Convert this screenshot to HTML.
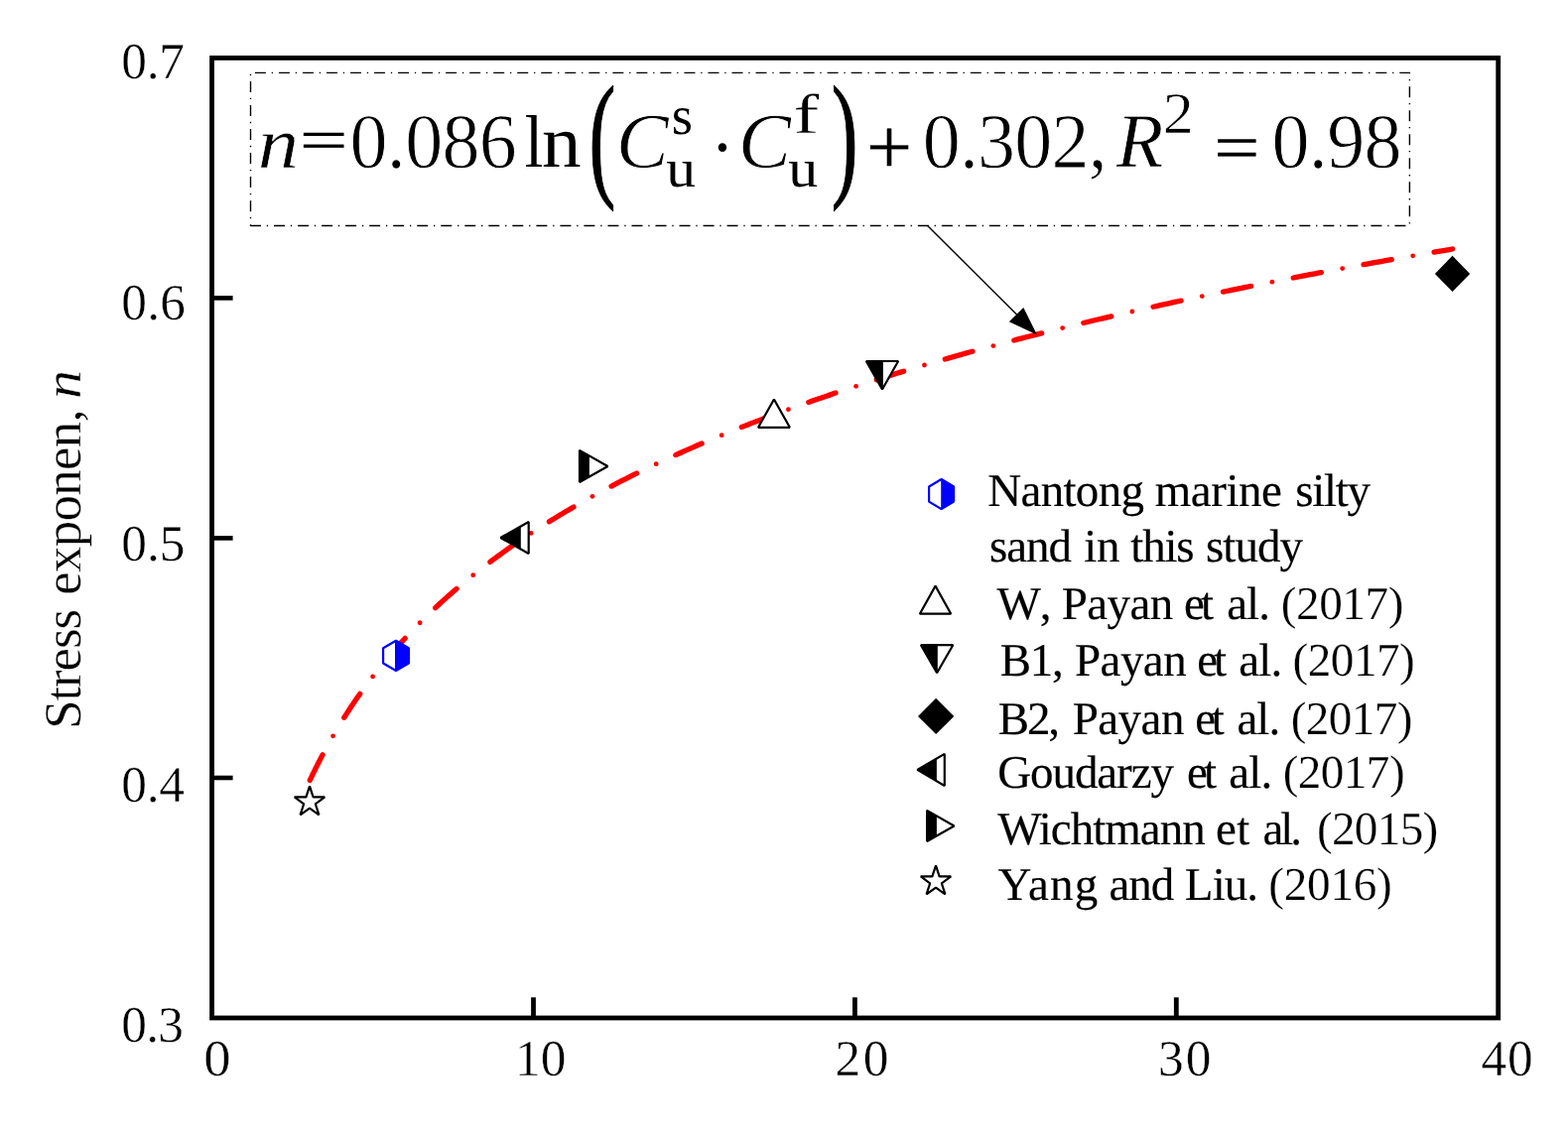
<!DOCTYPE html>
<html lang="en">
<head>
<meta charset="utf-8">
<title>Stress exponent n versus uniformity coefficient</title>
<style>
html,body{margin:0;padding:0;background:#fff;}
body{width:1580px;height:1144px;overflow:hidden;font-family:"Liberation Serif", "DejaVu Serif", serif;}
svg{display:block;}
text{white-space:pre;text-rendering:geometricPrecision;}
</style>
</head>
<body>
<svg width="1580" height="1144" viewBox="0 0 1580 1144">
<rect x="213.55" y="58.4" width="1296.15" height="967.6" fill="none" stroke="#000" stroke-width="4.8"/>
<line x1="213.55" y1="300.4" x2="234.6" y2="300.4" stroke="#000" stroke-width="4.6"/>
<line x1="213.55" y1="542.4" x2="234.6" y2="542.4" stroke="#000" stroke-width="4.6"/>
<line x1="213.55" y1="784.0" x2="234.6" y2="784.0" stroke="#000" stroke-width="4.6"/>
<line x1="537.5" y1="1026.0" x2="537.5" y2="1005.3" stroke="#000" stroke-width="4.8"/>
<line x1="861.4" y1="1026.0" x2="861.4" y2="1005.3" stroke="#000" stroke-width="4.8"/>
<line x1="1185.3" y1="1026.0" x2="1185.3" y2="1005.3" stroke="#000" stroke-width="4.8"/>
<path d="M312.27,786.48 L313.63,783.60 L315.00,780.72 L316.39,777.85 L317.80,774.99 L319.22,772.13 L320.66,769.29 L322.11,766.45 L323.57,763.62 L325.06,760.79 M346.79,723.25 L348.50,720.56 L350.22,717.88 L351.97,715.21 L353.72,712.55 L355.50,709.89 L357.28,707.25 L359.09,704.62 L360.91,702.01 L362.74,699.40 M389.17,665.00 L391.22,662.55 L393.28,660.12 L395.36,657.70 L397.44,655.29 L399.55,652.89 L401.66,650.51 L403.79,648.13 L405.93,645.77 L408.09,643.42 M438.66,612.64 L440.99,610.47 L443.33,608.30 L445.69,606.15 L448.05,604.01 L450.43,601.89 L452.82,599.77 L455.21,597.67 L457.62,595.58 L460.04,593.50 M493.89,566.36 L496.44,564.45 L499.00,562.55 L501.57,560.66 L504.14,558.78 L506.73,556.91 L509.32,555.06 L511.92,553.21 L514.53,551.37 L517.14,549.55 M553.41,525.74 L556.13,524.07 L558.85,522.40 L561.57,520.74 L564.30,519.09 L567.04,517.46 L569.78,515.83 L572.52,514.21 L575.28,512.59 L578.03,510.99 M616.04,490.07 L618.87,488.59 L621.70,487.12 L624.53,485.66 L627.37,484.21 L630.22,482.77 L633.06,481.33 L635.91,479.90 L638.77,478.48 L641.63,477.07 M680.87,458.57 L683.78,457.26 L686.69,455.96 L689.60,454.66 L692.52,453.37 L695.44,452.09 L698.36,450.81 L701.29,449.54 L704.22,448.28 L707.15,447.03 M747.28,430.54 L750.25,429.37 L753.22,428.20 L756.19,427.04 L759.16,425.89 L762.14,424.75 L765.11,423.60 L768.09,422.47 L771.08,421.34 L774.06,420.21 M814.84,405.39 L817.85,404.34 L820.86,403.29 L823.88,402.25 L826.89,401.21 L829.91,400.17 L832.92,399.14 L835.94,398.12 L838.96,397.10 L841.99,396.08 M883.25,382.66 L886.29,381.71 L889.34,380.76 L892.38,379.81 L895.43,378.86 L898.47,377.92 L901.52,376.99 L904.57,376.05 L907.62,375.12 L910.67,374.20 M952.30,361.96 L955.37,361.09 L958.44,360.22 L961.50,359.35 L964.57,358.49 L967.65,357.63 L970.72,356.77 L973.79,355.91 L976.86,355.06 L979.94,354.22 M1021.85,342.98 L1024.93,342.18 L1028.02,341.38 L1031.11,340.58 L1034.20,339.79 L1037.28,338.99 L1040.37,338.20 L1043.46,337.42 L1046.55,336.63 L1049.65,335.85 M1091.78,325.48 L1094.88,324.74 L1097.98,324.00 L1101.08,323.26 L1104.19,322.52 L1107.29,321.79 L1110.39,321.06 L1113.50,320.33 L1116.60,319.60 L1119.71,318.88 M1162.02,309.25 L1165.13,308.56 L1168.24,307.87 L1171.36,307.18 L1174.47,306.50 L1177.59,305.81 L1180.70,305.13 L1183.82,304.45 L1186.93,303.78 L1190.05,303.10 M1232.50,294.13 L1235.62,293.48 L1238.75,292.84 L1241.87,292.20 L1245.00,291.56 L1248.12,290.92 L1251.24,290.28 L1254.37,289.65 L1257.50,289.01 L1260.62,288.38 M1303.19,279.98 L1306.32,279.37 L1309.45,278.77 L1312.58,278.17 L1315.71,277.57 L1318.85,276.97 L1321.98,276.37 L1325.11,275.78 L1328.25,275.18 L1331.38,274.59 M1374.04,266.69 L1377.18,266.12 L1380.32,265.55 L1383.46,264.98 L1386.60,264.42 L1389.73,263.85 L1392.87,263.29 L1396.01,262.73 L1399.15,262.17 L1402.29,261.61 M1445.04,254.16 L1448.13,253.63 L1451.23,253.10 L1454.33,252.58 L1457.43,252.05 L1460.53,251.52 L1463.63,251.00" fill="none" stroke="#f00" stroke-width="5.3" stroke-linecap="round" stroke-linejoin="round"/>
<g fill="#f00"><circle cx="335.56" cy="741.81" r="2.4"/><circle cx="375.62" cy="681.94" r="2.4"/><circle cx="423.09" cy="627.75" r="2.4"/><circle cx="476.75" cy="579.66" r="2.4"/><circle cx="535.13" cy="537.41" r="2.4"/><circle cx="596.93" cy="500.33" r="2.4"/><circle cx="661.17" cy="467.65" r="2.4"/><circle cx="727.16" cy="438.64" r="2.4"/><circle cx="794.41" cy="412.69" r="2.4"/><circle cx="862.59" cy="389.28" r="2.4"/><circle cx="931.46" cy="368.00" r="2.4"/><circle cx="1000.87" cy="348.53" r="2.4"/><circle cx="1070.70" cy="330.61" r="2.4"/><circle cx="1140.85" cy="314.01" r="2.4"/><circle cx="1211.27" cy="298.57" r="2.4"/><circle cx="1281.90" cy="284.14" r="2.4"/><circle cx="1352.70" cy="270.60" r="2.4"/><circle cx="1423.66" cy="257.86" r="2.4"/></g>
<polygon points="312.00,792.34 315.60,803.43 327.26,803.43 317.83,810.28 321.43,821.37 312.00,814.52 302.57,821.37 306.17,810.28 296.74,803.43 308.40,803.43" fill="#fff" stroke="#000" stroke-width="2.2" stroke-linejoin="bevel"/>
<polygon points="399.00,645.75 411.90,653.32 411.90,668.48 399.00,676.05 386.10,668.48 386.10,653.32" fill="#fff" stroke="#00f" stroke-width="2.2" stroke-linejoin="bevel"/><polygon points="399.00,645.75 411.90,653.32 411.90,668.48 399.00,676.05 398.00,675.46 398.00,646.34" fill="#00f"/>
<polygon points="504.44,542.00 532.70,525.96 532.70,558.04" fill="#fff" stroke="#000" stroke-width="2.2" stroke-linejoin="bevel"/><polygon points="504.44,542.00 524.80,530.44 524.80,553.56" fill="#000"/>
<polygon points="584.00,453.86 612.46,469.95 584.00,486.04" fill="#fff" stroke="#000" stroke-width="2.2" stroke-linejoin="bevel"/><polygon points="584.00,453.86 593.90,459.46 593.90,480.44 584.00,486.04" fill="#000"/>
<polygon points="779.95,402.54 795.84,430.80 764.06,430.80" fill="#fff" stroke="#000" stroke-width="2.2" stroke-linejoin="bevel"/>
<polygon points="872.86,364.00 905.14,364.00 889.00,392.46" fill="#fff" stroke="#000" stroke-width="2.2" stroke-linejoin="bevel"/><polygon points="872.86,364.00 889.90,364.00 889.90,390.87 889.00,392.46" fill="#000"/>
<polygon points="1463.55,257.80 1481.20,275.90 1463.55,294.00 1445.90,275.90" fill="#000"/>
<polygon points="948.60,482.94 961.10,490.50 961.10,505.60 948.60,513.16 936.10,505.60 936.10,490.50" fill="#fff" stroke="#00f" stroke-width="2.2" stroke-linejoin="bevel"/><polygon points="948.60,482.94 961.10,490.50 961.10,505.60 948.60,513.16 948.20,512.92 948.20,483.18" fill="#00f"/>
<polygon points="942.55,590.64 958.24,618.70 926.86,618.70" fill="#fff" stroke="#000" stroke-width="2.2" stroke-linejoin="bevel"/>
<polygon points="927.95,650.20 960.25,650.20 944.10,678.25" fill="#fff" stroke="#000" stroke-width="2.2" stroke-linejoin="bevel"/><polygon points="927.95,650.20 944.80,650.20 944.80,677.04 944.10,678.25" fill="#000"/>
<polygon points="943.15,703.80 961.30,721.90 943.15,740.00 925.00,721.90" fill="#000"/>
<polygon points="924.36,775.90 951.80,759.85 951.80,791.95" fill="#fff" stroke="#000" stroke-width="2.2" stroke-linejoin="bevel"/><polygon points="924.36,775.90 943.90,764.47 943.90,787.33" fill="#000"/>
<polygon points="934.10,816.86 961.46,832.45 934.10,848.04" fill="#fff" stroke="#000" stroke-width="2.2" stroke-linejoin="bevel"/><polygon points="934.10,816.86 943.90,822.44 943.90,842.46 934.10,848.04" fill="#000"/>
<polygon points="943.00,872.34 946.60,883.43 958.26,883.43 948.83,890.28 952.43,901.37 943.00,894.52 933.57,901.37 937.17,890.28 927.74,883.43 939.40,883.43" fill="#fff" stroke="#000" stroke-width="2.2" stroke-linejoin="bevel"/>
<line x1="252.5" y1="73.4" x2="1421.0" y2="73.4" fill="none" stroke="#000" stroke-width="1.4" stroke-dasharray="11 5.8 1.3 5.93" stroke-dashoffset="19.63"/>
<line x1="252.0" y1="227.5" x2="1420.4" y2="227.5" fill="none" stroke="#000" stroke-width="1.4" stroke-dasharray="11 5.8 1.3 5.93" stroke-dashoffset="0"/>
<line x1="252.5" y1="73.4" x2="252.5" y2="227.5" fill="none" stroke="#000" stroke-width="1.4" stroke-dasharray="11 5.8 1.3 5.93" stroke-dashoffset="15.43"/>
<line x1="1420.4" y1="73.4" x2="1420.4" y2="227.5" fill="none" stroke="#000" stroke-width="1.4" stroke-dasharray="11 5.8 1.3 5.93" stroke-dashoffset="10.23"/>
<line x1="934.9" y1="227.7" x2="1030" y2="322.5" stroke="#000" stroke-width="1.5"/>
<polygon points="1045,337.5 1031.3,310.0 1016.8,324.2" fill="#000"/>
<g font-family='"Liberation Serif", "DejaVu Serif", serif' fill="#000">
<g id="y-ticks">
<text x="122.35" y="78.85" font-size="51.4" letter-spacing="-0.375" stroke="#fff" stroke-width="0.4" stroke-linejoin="round">0.7</text>
<text x="122.35" y="321.75" font-size="51.4" letter-spacing="0.125" stroke="#fff" stroke-width="0.4" stroke-linejoin="round">0.6</text>
<text x="122.35" y="564.85" font-size="51.4" letter-spacing="-0.075" stroke="#fff" stroke-width="0.4" stroke-linejoin="round">0.5</text>
<text x="122.35" y="807.75" font-size="51.4" letter-spacing="-0.3" stroke="#fff" stroke-width="0.4" stroke-linejoin="round">0.4</text>
<text x="122.35" y="1049.95" font-size="51.4" letter-spacing="-0.875" stroke="#fff" stroke-width="0.4" stroke-linejoin="round">0.3</text>
</g>
<g id="x-ticks">
<text transform="translate(205.21,1083.97) scale(1.0635,1)" font-size="51.4" stroke="#fff" stroke-width="0.4" stroke-linejoin="round">0</text>
<text x="518.95" y="1083.82" font-size="51.4" letter-spacing="0.1" stroke="#fff" stroke-width="0.4" stroke-linejoin="round">10</text>
<text x="841.4" y="1083.82" font-size="51.4" letter-spacing="2.65" stroke="#fff" stroke-width="0.4" stroke-linejoin="round">20</text>
<text x="1166.95" y="1083.82" font-size="51.4" letter-spacing="2.2" stroke="#fff" stroke-width="0.4" stroke-linejoin="round">30</text>
<text x="1492.55" y="1083.82" font-size="51.4" letter-spacing="0.7" stroke="#fff" stroke-width="0.4" stroke-linejoin="round">40</text>
</g>
<g id="y-title">
<text transform="translate(80.6,731.1) rotate(-90)" font-size="52.8" stroke="#fff" stroke-width="0.4" stroke-linejoin="round"><tspan x="-3.75" letter-spacing="-1.07">Stress</tspan> <tspan x="131.25" letter-spacing="-0.636">exponen,</tspan> </text>
<text transform="translate(80.6,402.07) rotate(-90) scale(1.0989,1)" font-size="52.8" font-style="italic" stroke="#fff" stroke-width="0.4" stroke-linejoin="round">n</text>
</g>
<g id="legend-text">
<text y="509.9" font-size="47"><tspan x="995.15" letter-spacing="-0.658" stroke="#000" stroke-width="0.15" stroke-linejoin="round">Nantong</tspan> <tspan x="1163.7" letter-spacing="-0.46" stroke="#000" stroke-width="0.15" stroke-linejoin="round">marine</tspan> <tspan x="1305.35" letter-spacing="-1.325" stroke="#000" stroke-width="0.15" stroke-linejoin="round">silty</tspan></text>
<text y="566.0" font-size="47"><tspan x="997.05" letter-spacing="-1.067" stroke="#000" stroke-width="0.15" stroke-linejoin="round">sand</tspan> <tspan x="1092.3" letter-spacing="-0.4" stroke="#000" stroke-width="0.15" stroke-linejoin="round">in</tspan> <tspan x="1139.35" letter-spacing="-1.233" stroke="#000" stroke-width="0.15" stroke-linejoin="round">this</tspan> <tspan x="1214.95" letter-spacing="-0.95" stroke="#000" stroke-width="0.15" stroke-linejoin="round">study</tspan></text>
<text y="624.1" font-size="47"><tspan x="1004.4" letter-spacing="3.4" stroke="#000" stroke-width="0.15" stroke-linejoin="round">W,</tspan> <tspan x="1069.75" letter-spacing="-0.575" stroke="#000" stroke-width="0.15" stroke-linejoin="round">Payan</tspan> <tspan x="1193.05" letter-spacing="-4.0" stroke="#000" stroke-width="0.15" stroke-linejoin="round">et</tspan> <tspan x="1236.2" letter-spacing="-0.975" stroke="#000" stroke-width="0.15" stroke-linejoin="round">al.</tspan> <tspan x="1290.75" font-size="47.25" letter-spacing="-0.46" stroke="#fff" stroke-width="0.25" stroke-linejoin="round">(2017)</tspan></text>
<text y="681.3" font-size="47"><tspan x="1007.75" letter-spacing="-1.25" stroke="#000" stroke-width="0.15" stroke-linejoin="round">B1,</tspan> <tspan x="1082.95" letter-spacing="-0.525" stroke="#000" stroke-width="0.15" stroke-linejoin="round">Payan</tspan> <tspan x="1206.15" letter-spacing="-3.9" stroke="#000" stroke-width="0.15" stroke-linejoin="round">et</tspan> <tspan x="1248.3" letter-spacing="-0.875" stroke="#000" stroke-width="0.15" stroke-linejoin="round">al.</tspan> <tspan x="1302.55" font-size="47.25" letter-spacing="-0.54" stroke="#fff" stroke-width="0.25" stroke-linejoin="round">(2017)</tspan></text>
<text y="739.6" font-size="47"><tspan x="1005.75" letter-spacing="-2.15" stroke="#000" stroke-width="0.15" stroke-linejoin="round">B2,</tspan> <tspan x="1080.65" letter-spacing="-0.525" stroke="#000" stroke-width="0.15" stroke-linejoin="round">Payan</tspan> <tspan x="1204.35" letter-spacing="-4.4" stroke="#000" stroke-width="0.15" stroke-linejoin="round">et</tspan> <tspan x="1246.4" letter-spacing="-0.925" stroke="#000" stroke-width="0.15" stroke-linejoin="round">al.</tspan> <tspan x="1300.75" font-size="47.25" letter-spacing="-0.64" stroke="#fff" stroke-width="0.25" stroke-linejoin="round">(2017)</tspan></text>
<text y="794.0" font-size="47"><tspan x="1005.25" letter-spacing="-1.086" stroke="#000" stroke-width="0.15" stroke-linejoin="round">Goudarzy</tspan> <tspan x="1196.05" letter-spacing="-4.0" stroke="#000" stroke-width="0.15" stroke-linejoin="round">et</tspan> <tspan x="1238.3" letter-spacing="-0.875" stroke="#000" stroke-width="0.15" stroke-linejoin="round">al.</tspan> <tspan x="1292.65" font-size="47.25" letter-spacing="-0.6" stroke="#fff" stroke-width="0.25" stroke-linejoin="round">(2017)</tspan></text>
<text y="850.9" font-size="47"><tspan x="1005.2" letter-spacing="-0.981" stroke="#000" stroke-width="0.15" stroke-linejoin="round">Wichtmann</tspan> <tspan x="1225.05" letter-spacing="0.3" stroke="#000" stroke-width="0.15" stroke-linejoin="round">et</tspan> <tspan x="1272.4" letter-spacing="-2.975" stroke="#000" stroke-width="0.15" stroke-linejoin="round">al.</tspan> <tspan x="1326.95" font-size="47.25" letter-spacing="-0.72" stroke="#fff" stroke-width="0.25" stroke-linejoin="round">(2015)</tspan></text>
<text y="906.8" font-size="47"><tspan x="1005.5" letter-spacing="1.217" stroke="#000" stroke-width="0.15" stroke-linejoin="round">Yang</tspan> <tspan x="1117.6" letter-spacing="-1.1" stroke="#000" stroke-width="0.15" stroke-linejoin="round">and</tspan> <tspan x="1193.85" letter-spacing="-0.917" stroke="#000" stroke-width="0.15" stroke-linejoin="round">Liu.</tspan> <tspan x="1278.35" font-size="47.25" letter-spacing="-0.3" stroke="#fff" stroke-width="0.25" stroke-linejoin="round">(2016)</tspan></text>
</g>
<g id="equation">
<text transform="translate(259.63,168.94) scale(1.0889,0.9702)" font-size="76" font-style="italic" stroke="#fff" stroke-width="0.6" stroke-linejoin="round">n</text>
<text transform="translate(301.73,161.38) scale(1.1357,0.7795)" font-size="76" stroke="#000" stroke-width="0.4" stroke-linejoin="round">=</text>
<text transform="translate(352.55,168.58) scale(1,1.0356)" font-size="76" letter-spacing="-0.7" stroke="#fff" stroke-width="0.9" stroke-linejoin="round">0.086</text>
<text transform="translate(528.78,167.8) scale(0.8778,0.9839)" font-size="76">l</text>
<text transform="translate(545.98,167.8) scale(1.04,0.9846)" font-size="76">n</text>
<text transform="translate(593.41,182.85) scale(1.0617,1.8331)" font-size="76" stroke="#000" stroke-width="0.7" stroke-linejoin="round">(</text>
<text transform="translate(620.83,168.84) scale(1.0457,1.046)" font-size="76" font-style="italic" stroke="#fff" stroke-width="0.9" stroke-linejoin="round">C</text>
<text transform="translate(676.77,134.9) scale(0.9913,1.0)" font-size="55">s</text>
<text transform="translate(671.19,187.91) scale(1.0835,0.9864)" font-size="55">u</text>
<text transform="translate(715.91,173.26) scale(0.9444,0.9714)" font-size="76">·</text>
<text transform="translate(743.7,168.84) scale(1.0522,1.046)" font-size="76" font-style="italic" stroke="#fff" stroke-width="0.9" stroke-linejoin="round">C</text>
<text transform="translate(799.54,134.46) scale(1.4061,1.0248)" font-size="55" stroke="#fff" stroke-width="0.3" stroke-linejoin="round">f</text>
<text transform="translate(794.28,187.91) scale(1.0913,0.9864)" font-size="55">u</text>
<text transform="translate(837.69,182.85) scale(1.0568,1.8331)" font-size="76" stroke="#000" stroke-width="0.7" stroke-linejoin="round">)</text>
<text transform="translate(873.04,175.45) scale(1.0741,1.0556)" font-size="76" stroke="#000" stroke-width="0.4" stroke-linejoin="round">+</text>
<text transform="translate(929.75,168.69) scale(1,1.0377)" font-size="76" letter-spacing="-0.82" stroke="#fff" stroke-width="0.9" stroke-linejoin="round">0.302,</text>
<text transform="translate(1125.0,168.06) scale(1.0168,1.0193)" font-size="76" font-style="italic" stroke="#fff" stroke-width="0.6" stroke-linejoin="round">R</text>
<text transform="translate(1171.8,134.47) scale(1.1256,1.0741)" font-size="55" stroke="#fff" stroke-width="0.6" stroke-linejoin="round">2</text>
<text transform="translate(1223.14,171.49) scale(1.0741,0.8769)" font-size="76" stroke="#000" stroke-width="0.4" stroke-linejoin="round">=</text>
<text transform="translate(1281.45,168.58) scale(1,1.0356)" font-size="76" letter-spacing="-0.633" stroke="#fff" stroke-width="0.9" stroke-linejoin="round">0.98</text>
</g>
</g>
</svg>
</body>
</html>
